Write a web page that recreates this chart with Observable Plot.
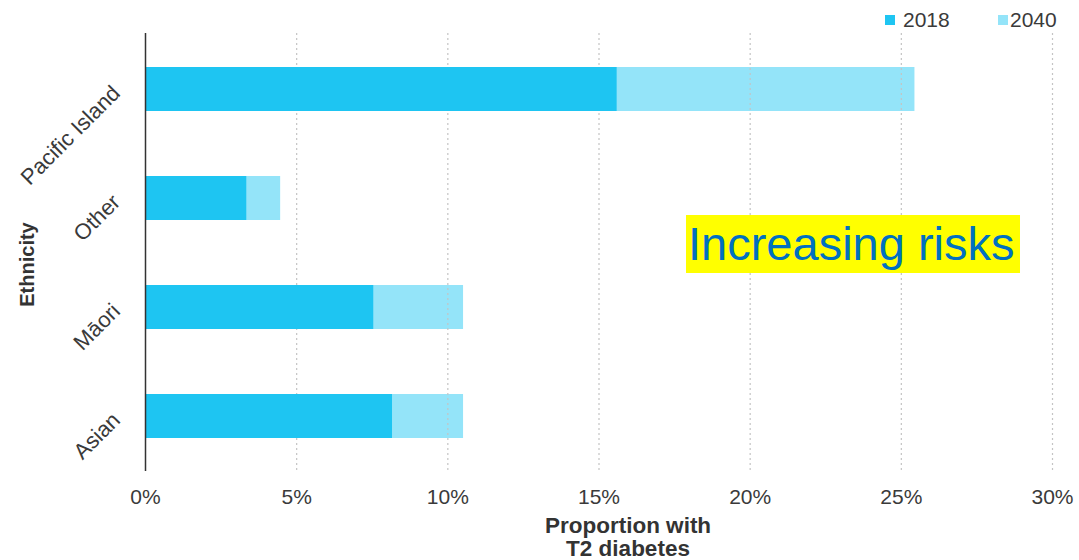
<!DOCTYPE html>
<html>
<head>
<meta charset="utf-8">
<script src="https://cdn.jsdelivr.net/npm/d3@7"></script>
<script src="https://cdn.jsdelivr.net/npm/@observablehq/plot@0.6"></script>
<style>
  html, body { margin: 0; padding: 0; background: #fff; }
  body { width: 1079px; height: 560px; position: relative; overflow: hidden; font-family: "Liberation Sans", Arial, sans-serif; }
  #chart { position: absolute; left: 0; top: 0; }
  .sw { position: absolute; width: 10px; height: 10px; }
  .lt { position: absolute; font-size: 21px; line-height: 21px; color: #3a3a3a; }
  #note { position: absolute; left: 686px; top: 215px; width: 334px; height: 58px; background: #ffff00;
          color: #0070c0; font-size: 47px; line-height: 58px; padding-left: 2px; box-sizing: border-box; white-space: nowrap; }
</style>
</head>
<body>
<div id="chart"></div>
<div id="legend"></div>
<div id="note">Increasing risks</div>
<script>
// ---- data ----
const ethnicities = ["Pacific Island", "Other", "Māori", "Asian"];
const values2018 = [0.156, 0.0335, 0.0755, 0.0817];
const values2040 = [0.2545, 0.0447, 0.1052, 0.1052];
const years = ["2018", "2040"];
const colors = ["#1ec5f2", "#94e4f9"];
const xTicks = [0, 0.05, 0.10, 0.15, 0.20, 0.25, 0.30];

const rows2018 = ethnicities.map((e, i) => ({ethnicity: e, value: values2018[i]}));
const rows2040 = ethnicities.map((e, i) => ({ethnicity: e, value: values2040[i]}));

const chart = Plot.plot({
  width: 1079,
  height: 560,
  marginLeft: 145,
  marginRight: 27,
  marginTop: 33,
  marginBottom: 89,
  style: {fontFamily: "'Liberation Sans', Arial, sans-serif", background: "#fff"},
  x: {domain: [0, 0.3]},
  y: {domain: ethnicities, paddingInner: 0.6, paddingOuter: 0.3},
  marks: [
    Plot.barX(rows2040, {y: "ethnicity", x: "value", fill: colors[1]}),
    Plot.gridX({ticks: xTicks.slice(1), stroke: "#c4c4c4", strokeOpacity: 1, strokeDasharray: "2,3", strokeWidth: 1.2}),
    Plot.barX(rows2018, {y: "ethnicity", x: "value", fill: colors[0]}),
    Plot.ruleX([0], {stroke: "#333", strokeWidth: 1.5}),
    Plot.axisX({ticks: xTicks, tickFormat: d => Math.round(d * 100) + "%", tickSize: 0, tickPadding: 18,
                fontSize: 21, fill: "#3a3a3a", label: null}),
    Plot.axisY({tickRotate: -45, tickSize: 0, tickPadding: 29, fontSize: 22, fill: "#3a3a3a", label: null}),
    Plot.text(["Proportion with\nT2 diabetes"], {frameAnchor: "bottom", lineAnchor: "top", dx: 29, dy: 46,
              fontSize: 22.5, fontWeight: "bold", fill: "#333", lineHeight: 1.0}),
    Plot.text(["Ethnicity"], {frameAnchor: "left", textAnchor: "middle", dx: -118, dy: 12, rotate: -90,
              fontSize: 20, fontWeight: "bold", fill: "#333"})
  ]
});
document.getElementById("chart").appendChild(chart);

// legend (HTML)
const legend = document.getElementById("legend");
const legendPos = [{sw: 885, tx: 903}, {sw: 998, tx: 1010}];
years.forEach((y, i) => {
  const sw = document.createElement("div");
  sw.className = "sw";
  sw.style.left = legendPos[i].sw + "px";
  sw.style.top = "15px";
  sw.style.background = colors[i];
  legend.appendChild(sw);
  const t = document.createElement("div");
  t.className = "lt";
  t.style.left = legendPos[i].tx + "px";
  t.style.top = "9px";
  t.textContent = y;
  legend.appendChild(t);
});
</script>
</body>
</html>
